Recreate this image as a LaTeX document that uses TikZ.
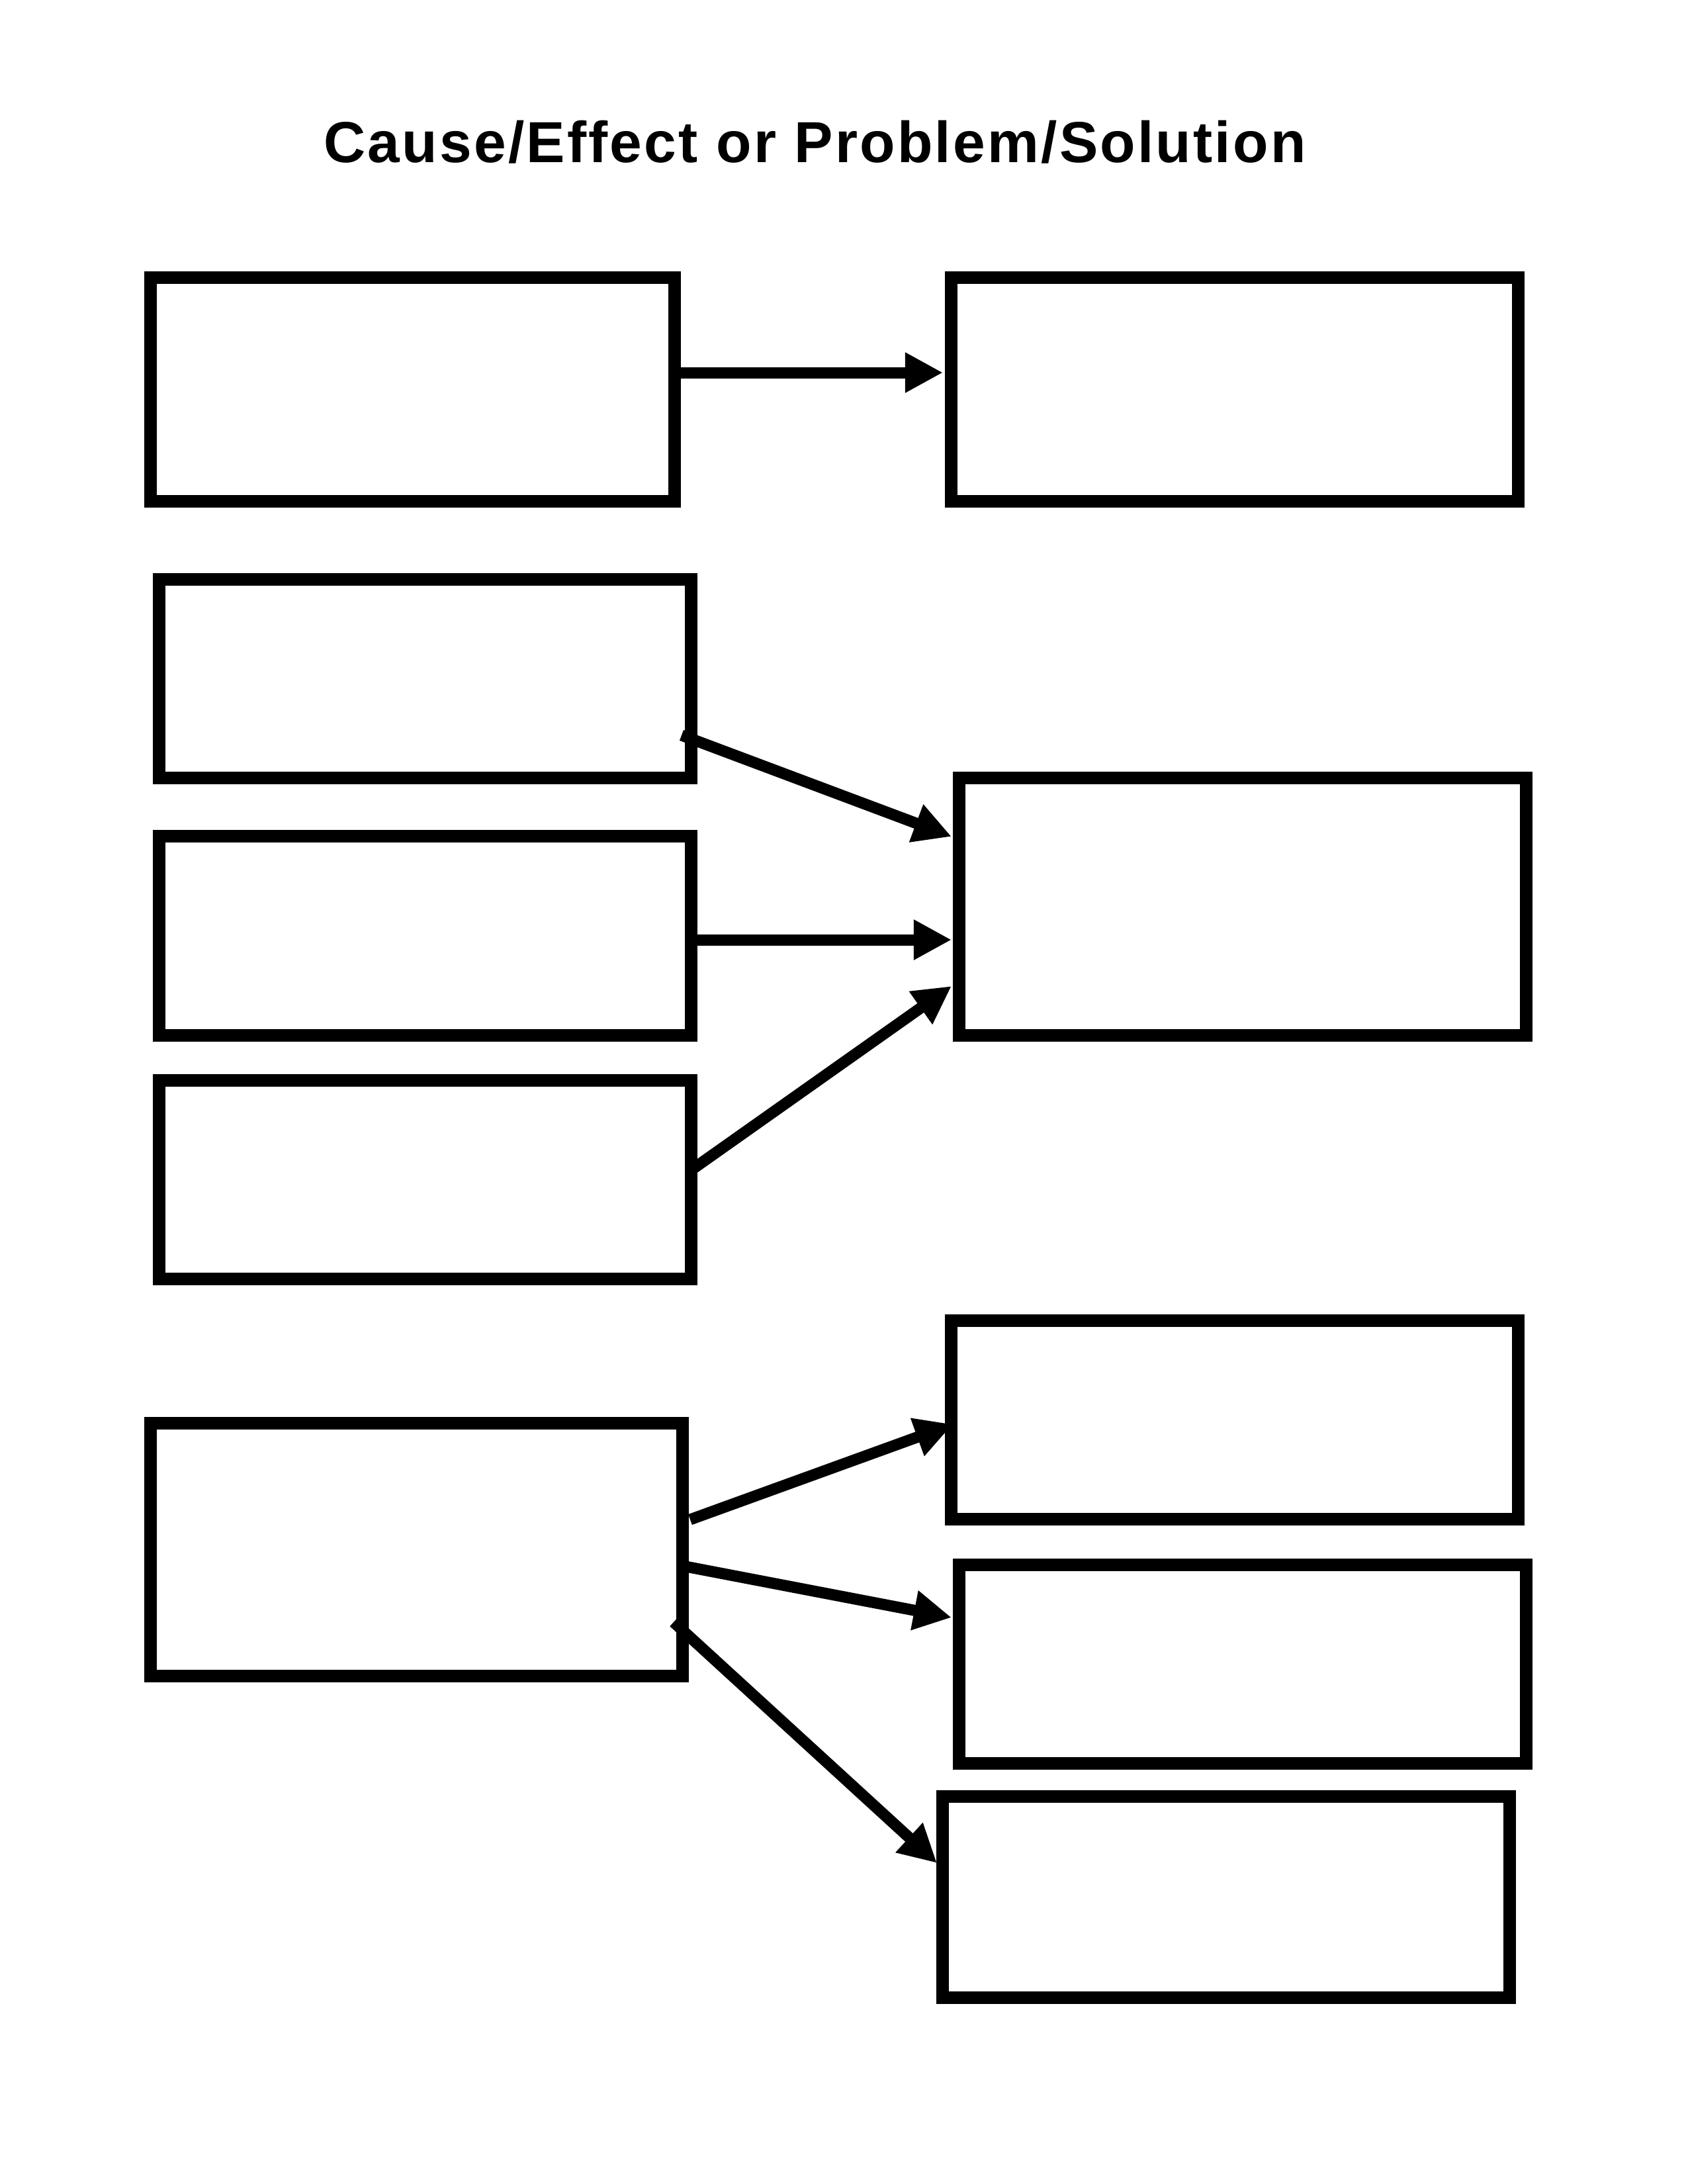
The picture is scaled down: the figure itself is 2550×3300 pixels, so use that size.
\documentclass[tikz,border=0pt]{standalone}
\usepackage{fontspec}
\setmainfont{Liberation Sans}
\usetikzlibrary{arrows.meta,calc}
\begin{document}
\begin{tikzpicture}[x=0.24pt,y=-0.24pt,
  box/.style={draw=black,line width=4.56pt,fill=none,inner sep=0pt,outer sep=0pt},
  arr/.style={draw=black,line width=4.08pt,-{Triangle[length=13.7pt,width=13.7pt]}},
  titlefont/.style={font=\fontsize{21}{25}\selectfont\bfseries\addfontfeature{LetterSpace=3.7}}]
\useasboundingbox (0,0) rectangle (2550,3300);
\fill[white] (0,0) rectangle (2550,3300);
\node[titlefont,anchor=base,inner sep=0pt] (title) at (1231.5,245) {Cause/Effect or Problem/Solution};
% boxes
\node[box,minimum width=792*0.24pt,minimum height=338*0.24pt] (A) at (623.5,588.5) {};
\node[box,minimum width=857*0.24pt,minimum height=338*0.24pt] (B) at (1866,588.5) {};
\node[box,minimum width=804*0.24pt,minimum height=300*0.24pt] (C) at (642.5,1025.5) {};
\node[box,minimum width=804*0.24pt,minimum height=301*0.24pt] (D) at (642.5,1414) {};
\node[box,minimum width=804*0.24pt,minimum height=300*0.24pt] (E) at (642.5,1782.5) {};
\node[box,minimum width=857*0.24pt,minimum height=389*0.24pt] (F) at (1878,1370) {};
\node[box,minimum width=804*0.24pt,minimum height=382*0.24pt] (G) at (629.5,2341.5) {};
\node[box,minimum width=857*0.24pt,minimum height=300*0.24pt] (H) at (1866,2145.5) {};
\node[box,minimum width=857*0.24pt,minimum height=300*0.24pt] (I) at (1878,2514.5) {};
\node[box,minimum width=857*0.24pt,minimum height=304*0.24pt] (J) at (1853,2866.5) {};
% connectors
\draw[arr] ($(A.east)+(0,-25.5)$) -- ($(B.west)+(-12.5,-25.5)$);
\draw[arr] ($(C.east)+(-14.5,85.5)$) -- ($(F.west)+(-11.5,-106)$);
\draw[arr] ($(D.east)+(0,6)$) -- ($(F.west)+(-11.5,50)$);
\draw[arr] ($(E.east)+(0,-14.5)$) -- ($(F.west)+(-11.5,120)$);
\draw[arr] ($(G.east)+(11.5,-45.5)$) -- ($(H.west)+(2.5,6.5)$);
\draw[arr] ($(G.east)+(5,25.5)$) -- ($(I.west)+(-11.5,-70.5)$);
\draw[arr] ($(G.east)+(-13.5,109.5)$) -- ($(J.west)+(-8.5,-51.5)$);
\end{tikzpicture}
\end{document}
